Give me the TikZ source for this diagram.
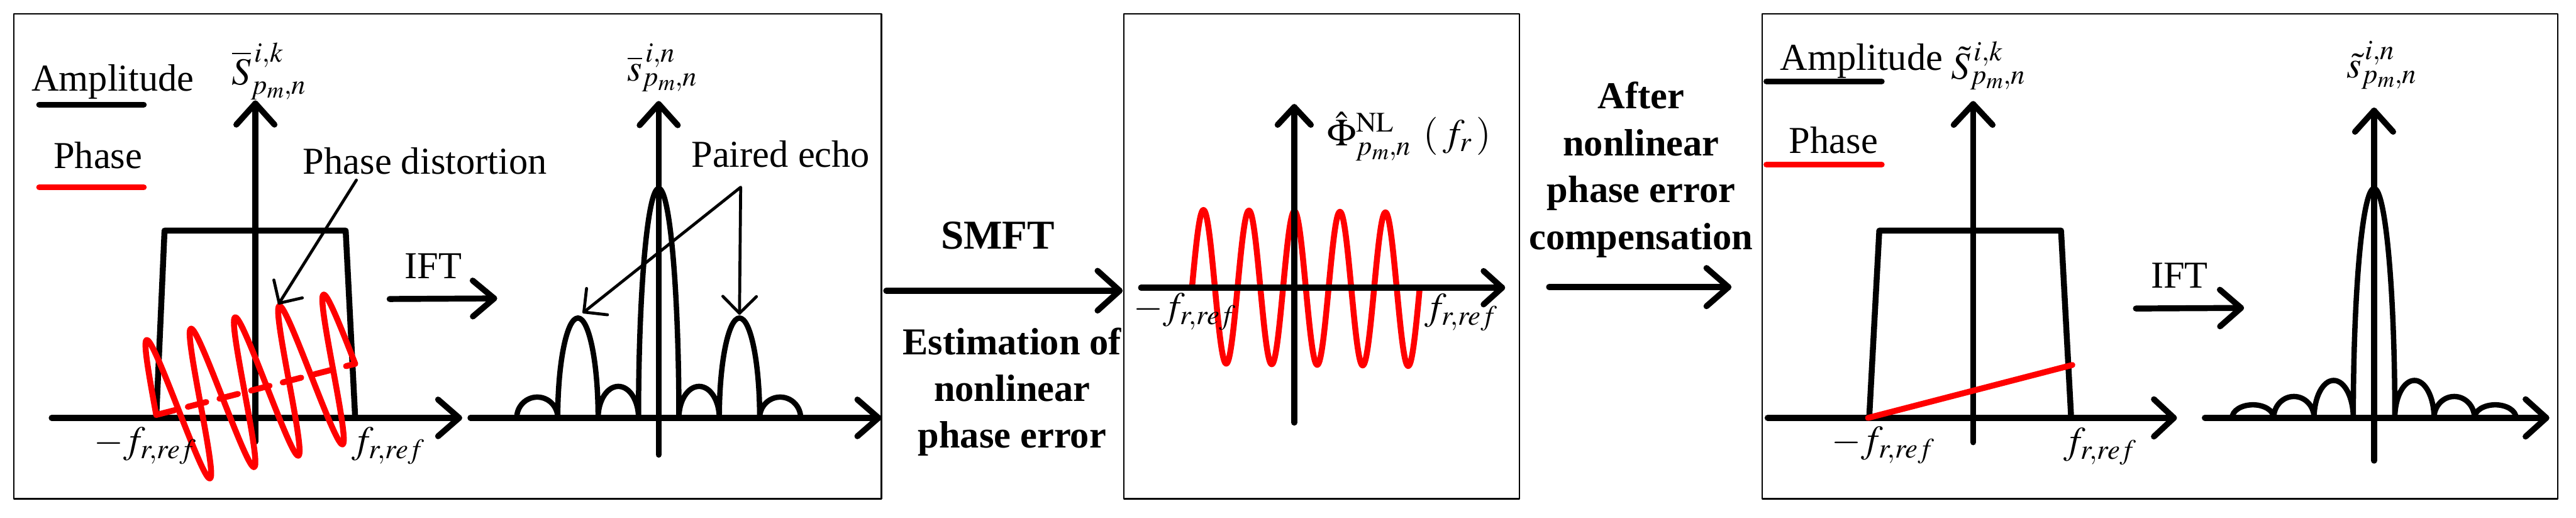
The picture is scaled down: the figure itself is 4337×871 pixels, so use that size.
\documentclass[tikz,border=0pt]{standalone}
\usepackage{mathptmx}
\usepackage[no-math]{fontspec}
\setmainfont{Liberation Serif}
\usetikzlibrary{calc}
\newcommand{\arrtip}[5][ax]{\draw[#1] ($(#2)!#4!#5:(#3)$) -- (#2) -- ($(#2)!#4!-#5:(#3)$);}
\begin{document}
\begin{tikzpicture}[x=1pt,y=-1pt, line cap=round, line join=round,
  ax/.style={line width=10pt},
  lobe/.style={line width=9pt},
  ann/.style={line width=5pt},
  panel/.style={line width=2.5pt},
  ph/.style={line width=10pt, red},
  txt/.style={inner sep=0pt, anchor=base west, font=\fontsize{64}{76}\selectfont},
  btxt/.style={inner sep=0pt, anchor=base, font=\fontsize{64}{76}\selectfont\bfseries}]
\useasboundingbox (0,0) rectangle (4337,871);

% ---------- panels ----------
\draw[panel] (23,23) rectangle (1484,839);
\draw[panel] (1892,23) rectangle (2558,839);
\draw[panel] (2967,23) rectangle (4306,839);

% ---------- panel 1, spectrum ----------
\node[txt] (amp1) at (53,153) {Amplitude};
\draw[ax] (66,176) -- (242,176);
\node[txt] (pha1) at (90,283) {Phase};
\draw[ph] (66,315) -- (242,315);

\coordinate (h1s) at (87,703); \coordinate (h1t) at (773,703);
\draw[ax] (h1s) -- (h1t); \arrtip{h1t}{h1s}{47pt}{41}
\coordinate (v1s) at (430,743); \coordinate (v1t) at (430,174);
\draw[ax] (v1s) -- (v1t); \arrtip{v1t}{v1s}{48pt}{42}
\node[txt] (lab1) at (390,142) {$\overline{S}^{\,i,k}_{p_m,n}$};

\draw[ax] (263,703) -- (277,388) -- (582,388) -- (598,703);

\draw[ph] plot[domain=0:1620, samples=241, smooth]
  ({263+\x/1620*335-34.6*sin(\x)}, {698-\x/1620*86-121.2*sin(\x)});
\draw[ph, dash pattern=on 32pt off 23pt] (263,698) -- (598,612);

\node[txt] (fm1) at (158,762) {$-f_{r,ref}$};
\node[txt] (fp1) at (592,762) {$f_{r,ref}$};

\node[txt] (pd) at (510,293) {Phase distortion};
\coordinate (pds) at (600,303); \coordinate (pdt) at (470,510);
\draw[ann] (pds) -- (pdt); \arrtip[ann]{pdt}{pds}{40pt}{45}

\node[txt] (ift1) at (681,469) {IFT};
\coordinate (i1s) at (656,503); \coordinate (i1t) at (832,502);
\draw[ax] (i1s) -- (i1t); \arrtip{i1t}{i1s}{47pt}{40}

% ---------- panel 1, echo ----------
\coordinate (h2s) at (792,703); \coordinate (h2t) at (1479,703);
\draw[ax] (h2s) -- (h2t); \arrtip{h2t}{h2s}{47pt}{41}
\coordinate (v2s) at (1109,765); \coordinate (v2t) at (1109,175);
\draw[ax] (v2s) -- (v2t); \arrtip{v2t}{v2s}{48pt}{42}
\node[txt] (lab2) at (1056,136) {$\overline{s}^{\,i,n}_{p_m,n}$};
\draw[lobe] (870,703)
  arc[start angle=180,end angle=0,x radius=34.5pt,y radius=35pt]
  arc[start angle=180,end angle=0,x radius=34pt,y radius=168pt]
  arc[start angle=180,end angle=0,x radius=34pt,y radius=53pt]
  arc[start angle=180,end angle=0,x radius=34pt,y radius=386pt]
  arc[start angle=180,end angle=0,x radius=34pt,y radius=53pt]
  arc[start angle=180,end angle=0,x radius=34pt,y radius=168pt]
  arc[start angle=180,end angle=0,x radius=34.5pt,y radius=35pt];

\node[txt] (pe) at (1164,281) {Paired echo};
\coordinate (pec) at (1247,315);
\coordinate (pel) at (983,525); \coordinate (per) at (1245,527);
\draw[ann] (pel) -- (pec) -- (per);
\arrtip[ann]{pel}{pec}{40pt}{45}
\arrtip[ann]{per}{pec}{40pt}{45}

% ---------- SMFT ----------
\coordinate (sm1) at (1492,489); \coordinate (sm2) at (1885,489);
\draw[ax] (sm1) -- (sm2); \arrtip{sm2}{sm1}{50pt}{42}
\node[btxt, font=\fontsize{69}{80}\selectfont\bfseries] (smft) at (1680,419) {SMFT};
\node[btxt] (est1) at (1704,597) {Estimation of};
\node[btxt] (est2) at (1704,675) {nonlinear};
\node[btxt] (est3) at (1704,753) {phase error};

% ---------- panel 2 ----------
\draw[ph] plot[domain=0:1800, samples=301, smooth]
  ({2007+\x/1800*383}, {482+\x/1800*5-129*sin(\x)});
\coordinate (h3s) at (1921,484); \coordinate (h3t) at (2529,484);
\draw[ax] (h3s) -- (h3t); \arrtip{h3t}{h3s}{42pt}{42}
\coordinate (v3s) at (2179,711); \coordinate (v3t) at (2179,180);
\draw[ax] (v3s) -- (v3t); \arrtip{v3t}{v3s}{41pt}{43}
\node[txt] (fm2) at (1908,536) {$-f_{r,ref}$};
\node[txt] (fp2) at (2398,537) {$f_{r,ref}$};
\node[txt] (lab3) at (2234,245) {$\hat{\Phi}^{\mathrm{NL}}_{p_m,n}\;\left(\,f_r\,\right)$};

% ---------- after compensation ----------
\node[btxt] (aft1) at (2763,183) {After};
\node[btxt] (aft2) at (2763,262) {nonlinear};
\node[btxt] (aft3) at (2763,340) {phase error};
\node[btxt] (aft4) at (2763,420) {compensation};
\coordinate (af1) at (2608,483); \coordinate (af2) at (2910,483);
\draw[ax] (af1) -- (af2); \arrtip{af2}{af1}{49pt}{41}

% ---------- panel 3, spectrum ----------
\node[txt] (amp3) at (2997,118) {Amplitude};
\draw[ax] (2974,137) -- (3168,137);
\node[txt] (pha3) at (3012,258) {Phase};
\draw[ph] (2974,277) -- (3168,277);
\coordinate (h4s) at (2976,703); \coordinate (h4t) at (3660,703);
\draw[ax] (h4s) -- (h4t); \arrtip{h4t}{h4s}{46pt}{43}
\coordinate (v4s) at (3322,744); \coordinate (v4t) at (3322,175);
\draw[ax] (v4s) -- (v4t); \arrtip{v4t}{v4s}{48pt}{43}
\node[txt] (lab4) at (3285,133) {$\tilde{S}^{\,i,k}_{p_m,n}$};
\draw[ax] (3147,703) -- (3164,388) -- (3470,388) -- (3487,703);
\draw[ph] (3145,703) -- (3489,614);
\node[txt] (fm3) at (3084,761) {$-f_{r,ref}$};
\node[txt] (fp3) at (3474,763) {$f_{r,ref}$};

\node[txt] (ift2) at (3621,484) {IFT};
\coordinate (i2s) at (3596,519); \coordinate (i2t) at (3773,518);
\draw[ax] (i2s) -- (i2t); \arrtip{i2t}{i2s}{47pt}{41}

% ---------- panel 3, echo ----------
\coordinate (h5s) at (3712,703); \coordinate (h5t) at (4287,703);
\draw[ax] (h5s) -- (h5t); \arrtip{h5t}{h5s}{47pt}{42}
\coordinate (v5s) at (3997,775); \coordinate (v5t) at (3997,186);
\draw[ax] (v5s) -- (v5t); \arrtip{v5t}{v5s}{48pt}{42}
\node[txt] (lab5) at (3951,131) {$\tilde{s}^{\,i,n}_{p_m,n}$};
\draw[lobe] (3758,703)
  arc[start angle=180,end angle=0,x radius=35pt,y radius=22pt]
  arc[start angle=180,end angle=0,x radius=34pt,y radius=36pt]
  arc[start angle=180,end angle=0,x radius=33pt,y radius=63pt]
  arc[start angle=180,end angle=0,x radius=35pt,y radius=386pt]
  arc[start angle=180,end angle=0,x radius=33pt,y radius=63pt]
  arc[start angle=180,end angle=0,x radius=34pt,y radius=36pt]
  arc[start angle=180,end angle=0,x radius=35pt,y radius=22pt];
\end{tikzpicture}
\end{document}
